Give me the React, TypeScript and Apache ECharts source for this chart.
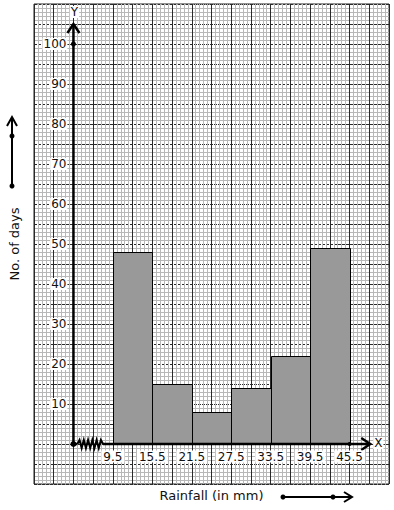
import React, { useEffect, useRef } from "react";
import * as echarts from "echarts";

// ---- data ----
const classEdges = [9.5, 15.5, 21.5, 27.5, 33.5, 39.5, 45.5];
const days = [48, 15, 8, 14, 22, 49];
const yTickLabels = [10, 20, 30, 40, 50, 60, 70, 80, 90, 100];
const xTickLabels = ["9.5", "15.5", "21.5", "27.5", "33.5", "39.5", "45.5"];

// ---- axis geometry (graph-paper scale) ----
const X_MIN = -2.5;
const X_MAX = 51.5;
const X_STEP = 3;
const Y_MIN = -10;
const Y_MAX = 110;
const Y_STEP = 5;
const ORIGIN_X = 3.5;
const Y_AXIS_TOP = 105;
const X_AXIS_END = 48.65;
const ZZ_START = 4.1;
const ZZ_END = 8.0;

const FONT = "DejaVu Sans";
const INK = "#111";

export default function App() {
  const ref = useRef<HTMLDivElement>(null);

  useEffect(() => {
    document.body.style.margin = "0";
    const chart = echarts.init(ref.current!, undefined, { renderer: "svg" });

    const axisStroke = { stroke: "#000", lineWidth: 2.5, fill: "none" };

    const option: any = {
      animation: false,
      backgroundColor: "#fff",
      grid: {
        left: 29,
        top: 4,
        width: 360,
        height: 480,
        show: true,
        borderColor: "#222",
        borderWidth: 1,
        backgroundColor: "#fff",
      },
      xAxis: {
        type: "value",
        min: X_MIN,
        max: X_MAX,
        interval: X_STEP,
        axisLine: { show: false },
        axisTick: { show: false },
        axisLabel: { show: false },
        splitLine: { show: true, lineStyle: { color: "#2a2a2a", width: 1 } },
        minorTick: { show: false, splitNumber: 5 },
        minorSplitLine: { show: true, lineStyle: { color: "#b8b8b8", width: 1 } },
        name: "Rainfall (in mm)",
        nameLocation: "middle",
        nameGap: 5,
        nameTextStyle: { fontFamily: FONT, fontSize: 13, color: INK },
      },
      yAxis: {
        type: "value",
        min: Y_MIN,
        max: Y_MAX,
        interval: Y_STEP,
        axisLine: { show: false },
        axisTick: { show: false },
        axisLabel: { show: false },
        splitLine: { show: true, lineStyle: { color: "#2a2a2a", width: 1, type: [3, 1] } },
        minorTick: { show: false, splitNumber: 5 },
        minorSplitLine: { show: true, lineStyle: { color: "#b8b8b8", width: 1 } },
        name: "No. of days",
        nameLocation: "middle",
        nameGap: 13,
        nameTextStyle: { fontFamily: FONT, fontSize: 13, color: INK },
      },
      series: [
        {
          type: "custom",
          name: "bars",
          data: days.map((d, i) => [classEdges[i], classEdges[i + 1], d]),
          encode: { x: [0, 1], y: 2 },
          renderItem: (params: any, api: any) => {
            const p0 = api.coord([api.value(0), 0]);
            const p1 = api.coord([api.value(1), api.value(2)]);
            const x0 = Math.round(p0[0]) + 0.5;
            const x1 = Math.round(p1[0]) + 0.5;
            const yTop = Math.round(p1[1]) + 0.5;
            const yBot = Math.round(p0[1]) + 0.5;
            return {
              type: "rect",
              shape: { x: x0, y: yTop, width: x1 - x0, height: yBot - yTop },
              style: { fill: "#999", stroke: "#000", lineWidth: 1 },
            };
          },
        },
        {
          type: "custom",
          name: "axes",
          data: [[ORIGIN_X, 0]],
          renderItem: (params: any, api: any) => {
            const o = api.coord([ORIGIN_X, 0]);
            const yt = api.coord([ORIGIN_X, Y_AXIS_TOP]);
            const xe = api.coord([X_AXIS_END, 0]);
            const zs = api.coord([ZZ_START, 0]);
            const ze = api.coord([ZZ_END, 0]);
            const top = api.coord([ORIGIN_X, 100]);
            const last = api.coord([classEdges[classEdges.length - 1], 0]);
            const ylab = api.coord([ORIGIN_X, 108]);
            const zz: number[][] = [];
            const n = 12;
            for (let i = 0; i <= n; i++) {
              const x = zs[0] + ((ze[0] - zs[0]) * i) / n;
              const y = o[1] + (i === 0 || i === n ? 0 : i % 2 ? -4 : 4);
              zz.push([x, y]);
            }
            return {
              type: "group",
              children: [
                { type: "line", shape: { x1: o[0], y1: o[1], x2: yt[0], y2: yt[1] }, style: axisStroke },
                {
                  type: "polyline",
                  shape: { points: [[yt[0] - 6, yt[1] + 9], [yt[0], yt[1]], [yt[0] + 6, yt[1] + 9]] },
                  style: axisStroke,
                },
                { type: "line", shape: { x1: o[0], y1: o[1], x2: zs[0], y2: zs[1] }, style: axisStroke },
                { type: "polyline", shape: { points: zz }, style: { stroke: "#000", lineWidth: 2, fill: "none" } },
                { type: "line", shape: { x1: ze[0], y1: o[1], x2: xe[0], y2: xe[1] }, style: axisStroke },
                {
                  type: "polyline",
                  shape: { points: [[xe[0] - 9, xe[1] - 6], [xe[0], xe[1]], [xe[0] - 9, xe[1] + 6]] },
                  style: axisStroke,
                },
                { type: "circle", shape: { cx: o[0], cy: o[1], r: 3 }, style: { fill: "#000" } },
                { type: "circle", shape: { cx: top[0], cy: top[1], r: 2.5 }, style: { fill: "#000" } },
                { type: "circle", shape: { cx: last[0], cy: last[1], r: 2 }, style: { fill: "#000" } },
                {
                  type: "text",
                  x: ylab[0] + 1,
                  y: ylab[1],
                  style: {
                    text: "Y", fontFamily: FONT, fontSize: 12, fill: INK,
                    align: "center", verticalAlign: "middle", backgroundColor: "#fff", padding: [0, 1],
                  },
                },
                {
                  type: "text",
                  x: xe[0] + 3,
                  y: xe[1] - 1,
                  style: {
                    text: "X", fontFamily: FONT, fontSize: 12, fill: INK,
                    align: "left", verticalAlign: "middle", backgroundColor: "#fff", padding: [0, 1],
                  },
                },
              ],
            };
          },
        },
        {
          type: "custom",
          name: "yLabels",
          data: yTickLabels.map((v) => [ORIGIN_X, v]),
          renderItem: (params: any, api: any) => {
            const p = api.coord([api.value(0), api.value(1)]);
            return {
              type: "text",
              x: p[0] - 6,
              y: p[1],
              style: {
                text: String(yTickLabels[params.dataIndex]),
                fontFamily: FONT, fontSize: 12, fill: INK,
                align: "right", verticalAlign: "middle",
                backgroundColor: "#fff", padding: [0, 1],
              },
            };
          },
        },
        {
          type: "custom",
          name: "xLabels",
          data: classEdges.map((v) => [v, 0]),
          renderItem: (params: any, api: any) => {
            const p = api.coord([api.value(0), api.value(1)]);
            return {
              type: "text",
              x: p[0],
              y: p[1] + 12.5,
              style: {
                text: xTickLabels[params.dataIndex],
                fontFamily: FONT, fontSize: 12, fill: INK,
                align: "center", verticalAlign: "middle",
                backgroundColor: "#fff", padding: [0, 2],
              },
            };
          },
        },
      ],
      graphic: [
        { type: "line", shape: { x1: 12, y1: 187, x2: 12, y2: 117 }, style: { stroke: "#000", lineWidth: 2 } },
        { type: "polyline", shape: { points: [[7, 126], [12, 117], [17, 126]] }, style: { stroke: "#000", lineWidth: 2, fill: "none" } },
        { type: "circle", shape: { cx: 12, cy: 136, r: 2.5 }, style: { fill: "#000" } },
        { type: "circle", shape: { cx: 12, cy: 186, r: 2.5 }, style: { fill: "#000" } },
        { type: "line", shape: { x1: 283, y1: 497, x2: 352, y2: 497 }, style: { stroke: "#000", lineWidth: 2 } },
        { type: "polyline", shape: { points: [[344, 492], [352, 497], [344, 502]] }, style: { stroke: "#000", lineWidth: 2, fill: "none" } },
        { type: "circle", shape: { cx: 283, cy: 497, r: 2.5 }, style: { fill: "#000" } },
        { type: "circle", shape: { cx: 333, cy: 497, r: 2.5 }, style: { fill: "#000" } },
      ],
    };

    chart.setOption(option);
    return () => chart.dispose();
  }, []);

  return <div ref={ref} style={{ width: 394, height: 510 }} />;
}
